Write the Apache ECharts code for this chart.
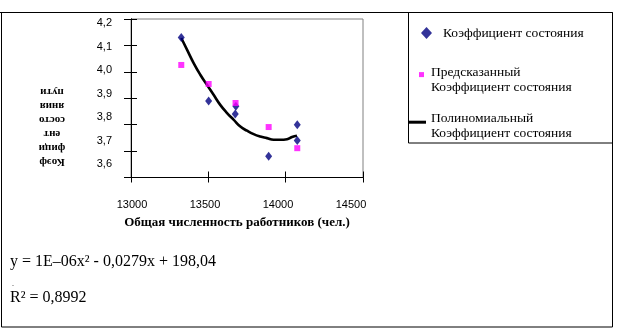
<!DOCTYPE html>
<html>
<head>
<meta charset="utf-8">
<script src="https://cdn.jsdelivr.net/npm/echarts@6/dist/echarts.min.js"></script>
<style>html,body{margin:0;padding:0;background:#fff;}#c{width:618px;height:330px;}</style>
</head>
<body>
<div id="c"></div>
<script>
// ---- data ----
var employees = [13325, 13502, 13678, 13674, 13890, 14075, 14075];
var condition = [4.13, 3.89, 3.87, 3.84, 3.68, 3.80, 3.74];
var predX = [13325, 13502, 13676, 13890, 14075];
var predY = [4.026, 3.954, 3.882, 3.791, 3.711];
var trendX = [13325, 13362, 13405, 13448, 13491, 13534, 13577, 13621, 13663, 13707, 13750, 13793, 13836, 13879, 13922, 13965, 14009, 14041, 14073];
var trendY = [4.128, 4.084, 4.033, 3.989, 3.951, 3.913, 3.875, 3.844, 3.819, 3.793, 3.777, 3.764, 3.755, 3.749, 3.743, 3.743, 3.745, 3.753, 3.758];
var xTicks = [13000, 13500, 14000, 14500];
var yTicks = [3.6, 3.7, 3.8, 3.9, 4.0, 4.1, 4.2];
var seriesNames = ['Коэффициент состояния', 'Предсказанный Коэффициент состояния', 'Полиномиальный Коэффициент состояния'];
var legendLines = [['Коэффициент состояния'], ['Предсказанный', 'Коэффициент состояния'], ['Полиномиальный', 'Коэффициент состояния']];
var xTitle = 'Общая численность работников (чел.)';
var yTitle = 'Коэф\nфици\nент\nсосто\nяния\nпути';
var eqText = 'y = 1E–06x² - 0,0279x + 198,04';
var r2Text = 'R² = 0,8992';

function pairs(xs, ys) { return xs.map(function (x, i) { return [x, ys[i]]; }); }

var serif = '"Liberation Serif", "Times New Roman", serif';
var sans = '"Liberation Sans", Arial, sans-serif';
var xMin = xTicks[0], xMax = xTicks[xTicks.length - 1], xInt = xTicks[1] - xTicks[0];
var yMin = yTicks[0], yMax = yTicks[yTicks.length - 1], yInt = 0.1;

function valAxis(grid, min, max, interval, opts) {
  var a = {
    type: 'value', gridIndex: grid, min: min, max: max, interval: interval,
    splitLine: { show: false },
    axisLine: { show: true, lineStyle: { color: '#000', width: 1 } },
    axisTick: { show: true, lineStyle: { color: '#000', width: 1 } },
    axisLabel: { show: false }
  };
  for (var k in opts) a[k] = opts[k];
  return a;
}

var chart = echarts.init(document.getElementById('c'), null, { renderer: 'canvas' });
function legendRich(gap, pad) {
  return { fontFamily: serif, fontSize: 13.5, color: '#000',
    rich: { e: { lineHeight: gap, fontSize: 2 }, t: { fontFamily: serif, fontSize: 13.5, color: '#000', lineHeight: 15.6, padding: [0, 0, 0, pad] } } };
}
function richFormatter(lines) {
  return function () { return '{e| }\n' + lines.map(function (l) { return '{t|' + l + '}'; }).join('\n'); };
}

chart.setOption({
  animation: false,
  grid: [
    { left: 131, top: 19, width: 232, height: 158.5, show: true, borderColor: '#808080', borderWidth: 1, backgroundColor: 'transparent' },
    { left: 132, top: 23, width: 219, height: 141, show: false }
  ],
  xAxis: [
    valAxis(0, xMin, xMax, xInt, { position: 'bottom', axisTick: { show: true, inside: false, length: 5, lineStyle: { color: '#000' } } }),
    valAxis(0, xMin, xMax, xInt, { position: 'bottom', axisTick: { show: true, inside: true, length: 6, lineStyle: { color: '#000' } } }),
    valAxis(1, xMin, xMax, xInt, { position: 'bottom', axisLine: { show: false }, axisTick: { show: false },
      axisLabel: { show: true, margin: 35, fontFamily: sans, fontSize: 11, color: '#000',
        formatter: function (v) { return String(v); } } })
  ],
  yAxis: [
    valAxis(0, yMin, yMax, yInt, { position: 'left', axisTick: { show: true, inside: false, length: 7, lineStyle: { color: '#000' } } }),
    valAxis(0, yMin, yMax, yInt, { position: 'left', axisTick: { show: true, inside: true, length: 6, lineStyle: { color: '#000' } } }),
    valAxis(1, yMin, yMax, yInt, { position: 'left', axisLine: { show: false }, axisTick: { show: false },
      axisLabel: { show: true, margin: 20, fontFamily: sans, fontSize: 11, color: '#000',
        formatter: function (v) { return v.toFixed(1).replace('.', ','); } } })
  ],
  legend: [
    { data: [{ name: seriesNames[0], icon: 'diamond', itemStyle: { color: '#000080' } }], left: 421, top: 26, orient: 'vertical', padding: 0,
      itemWidth: 11, itemHeight: 12, selectedMode: false,
      formatter: function () { return '{t|' + legendLines[0][0] + '}'; },
      textStyle: { fontFamily: serif, fontSize: 13.5, color: '#000', rich: { t: { fontFamily: serif, fontSize: 13.5, color: '#000', lineHeight: 15.6, padding: [0, 0, 0, 6] } } } },
    { data: [{ name: seriesNames[1], icon: 'rect' }], left: 419, top: 58, orient: 'vertical', padding: 0,
      itemWidth: 5, itemHeight: 5, selectedMode: false,
      formatter: richFormatter(legendLines[1]),
      textStyle: legendRich(11, 2) },
    { data: [{ name: seriesNames[2], icon: 'rect' }], left: 408, top: 105.6, orient: 'vertical', padding: 0,
      itemWidth: 18, itemHeight: 3, selectedMode: false,
      formatter: richFormatter(legendLines[2]),
      textStyle: legendRich(7.6, 0) }
  ],
  series: [
    { name: seriesNames[2], type: 'line', xAxisIndex: 0, yAxisIndex: 0, data: pairs(trendX, trendY),
      smooth: true, showSymbol: false, symbol: 'none', lineStyle: { color: '#000', width: 2.6 }, itemStyle: { color: '#000' }, z: 2 },
    { name: seriesNames[0], type: 'scatter', xAxisIndex: 0, yAxisIndex: 0, data: pairs(employees, condition),
      symbol: 'diamond', symbolSize: [7, 9], itemStyle: { color: '#000080' }, z: 3 },
    { name: seriesNames[1], type: 'scatter', xAxisIndex: 0, yAxisIndex: 0, data: pairs(predX, predY),
      symbol: 'rect', symbolSize: 6, itemStyle: { color: '#FF00FF' }, z: 3 }
  ],
  graphic: [
    { type: 'rect', shape: { x: 1.5, y: 12.5, width: 611, height: 314.5 }, style: { fill: 'none', stroke: '#000', lineWidth: 1 }, silent: true },
    { type: 'line', shape: { x1: 0, y1: 12.5, x2: 612, y2: 12.5 }, style: { stroke: '#000', lineWidth: 1 }, silent: true },
    { type: 'rect', shape: { x: 408.5, y: 12.5, width: 204, height: 130.5 }, style: { fill: 'none', stroke: '#000', lineWidth: 1 }, silent: true },
    { type: 'text', x: 52, y: 127, rotation: Math.PI, style: { text: yTitle, fontFamily: serif, fontWeight: 'bold', fontSize: 11, lineHeight: 14,
      fill: '#000', textAlign: 'center', textVerticalAlign: 'middle' }, silent: true },
    { type: 'text', x: 237, y: 223, style: { text: xTitle, fontFamily: serif, fontWeight: 'bold', fontSize: 13, fill: '#000',
      textAlign: 'center', textVerticalAlign: 'middle' }, silent: true },
    { type: 'text', x: 10, y: 262, style: { text: eqText, fontFamily: serif, fontSize: 16, fill: '#000', textAlign: 'left', textVerticalAlign: 'middle' }, silent: true },
    { type: 'text', x: 12, y: 284, style: { text: '.', fontFamily: serif, fontSize: 8, fill: '#000', textAlign: 'left', textVerticalAlign: 'middle' }, silent: true },
    { type: 'text', x: 10, y: 297.5, style: { text: r2Text, fontFamily: serif, fontSize: 16, fill: '#000', textAlign: 'left', textVerticalAlign: 'middle' }, silent: true }
  ]
});
</script>
</body>
</html>
